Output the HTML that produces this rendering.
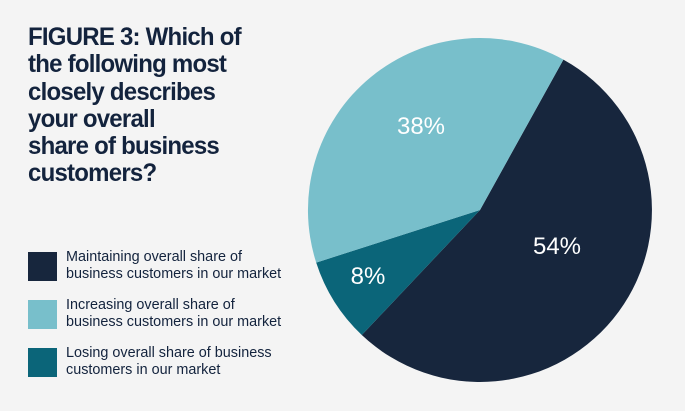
<!DOCTYPE html>
<html><head><meta charset="utf-8"><style>
html,body{margin:0;padding:0}
body{width:685px;height:411px;background:#f4f4f4;position:relative;overflow:hidden;font-family:"Liberation Sans",sans-serif;color:#13233d}
.t{position:absolute;left:28px;top:24px;font-size:25px;font-weight:bold;line-height:27.3px;letter-spacing:-0.8px;transform:scaleX(0.96);transform-origin:left top;white-space:nowrap}
.b{position:absolute;left:28px;width:29px;height:29px}
.l{position:absolute;left:66px;font-size:14.4px;line-height:16.5px;color:#13233d;white-space:nowrap}
</style></head><body>
<div class="t">FIGURE 3: Which of<br>the following most<br>closely describes<br>your overall<br>share of business<br>customers?</div>
<div class="b" style="top:252px;background:#17263d"></div>
<div class="l" style="top:249px">Maintaining overall share of<br>business customers in our market</div>
<div class="b" style="top:300px;background:#78bfcb"></div>
<div class="l" style="top:297px">Increasing overall share of<br>business customers in our market</div>
<div class="b" style="top:348px;background:#0b6579"></div>
<div class="l" style="top:345px">Losing overall share of business<br>customers in our market</div>
<svg width="685" height="411" style="position:absolute;left:0;top:0">
<path d="M480,210 L563.4,59.6 A172,172 0 1 1 361.8,335 Z" fill="#17263d"/>
<path d="M480,210 L361.8,335 A172,172 0 0 1 316.2,262.6 Z" fill="#0b6579"/>
<path d="M480,210 L316.2,262.6 A172,172 0 0 1 563.4,59.6 Z" fill="#78bfcb"/>
<g fill="#fff" font-family="Liberation Sans,sans-serif" font-size="24" text-anchor="middle">
<text x="421" y="134">38%</text>
<text x="557" y="254">54%</text>
<text x="368" y="284">8%</text>
</g>
</svg>
</body></html>
